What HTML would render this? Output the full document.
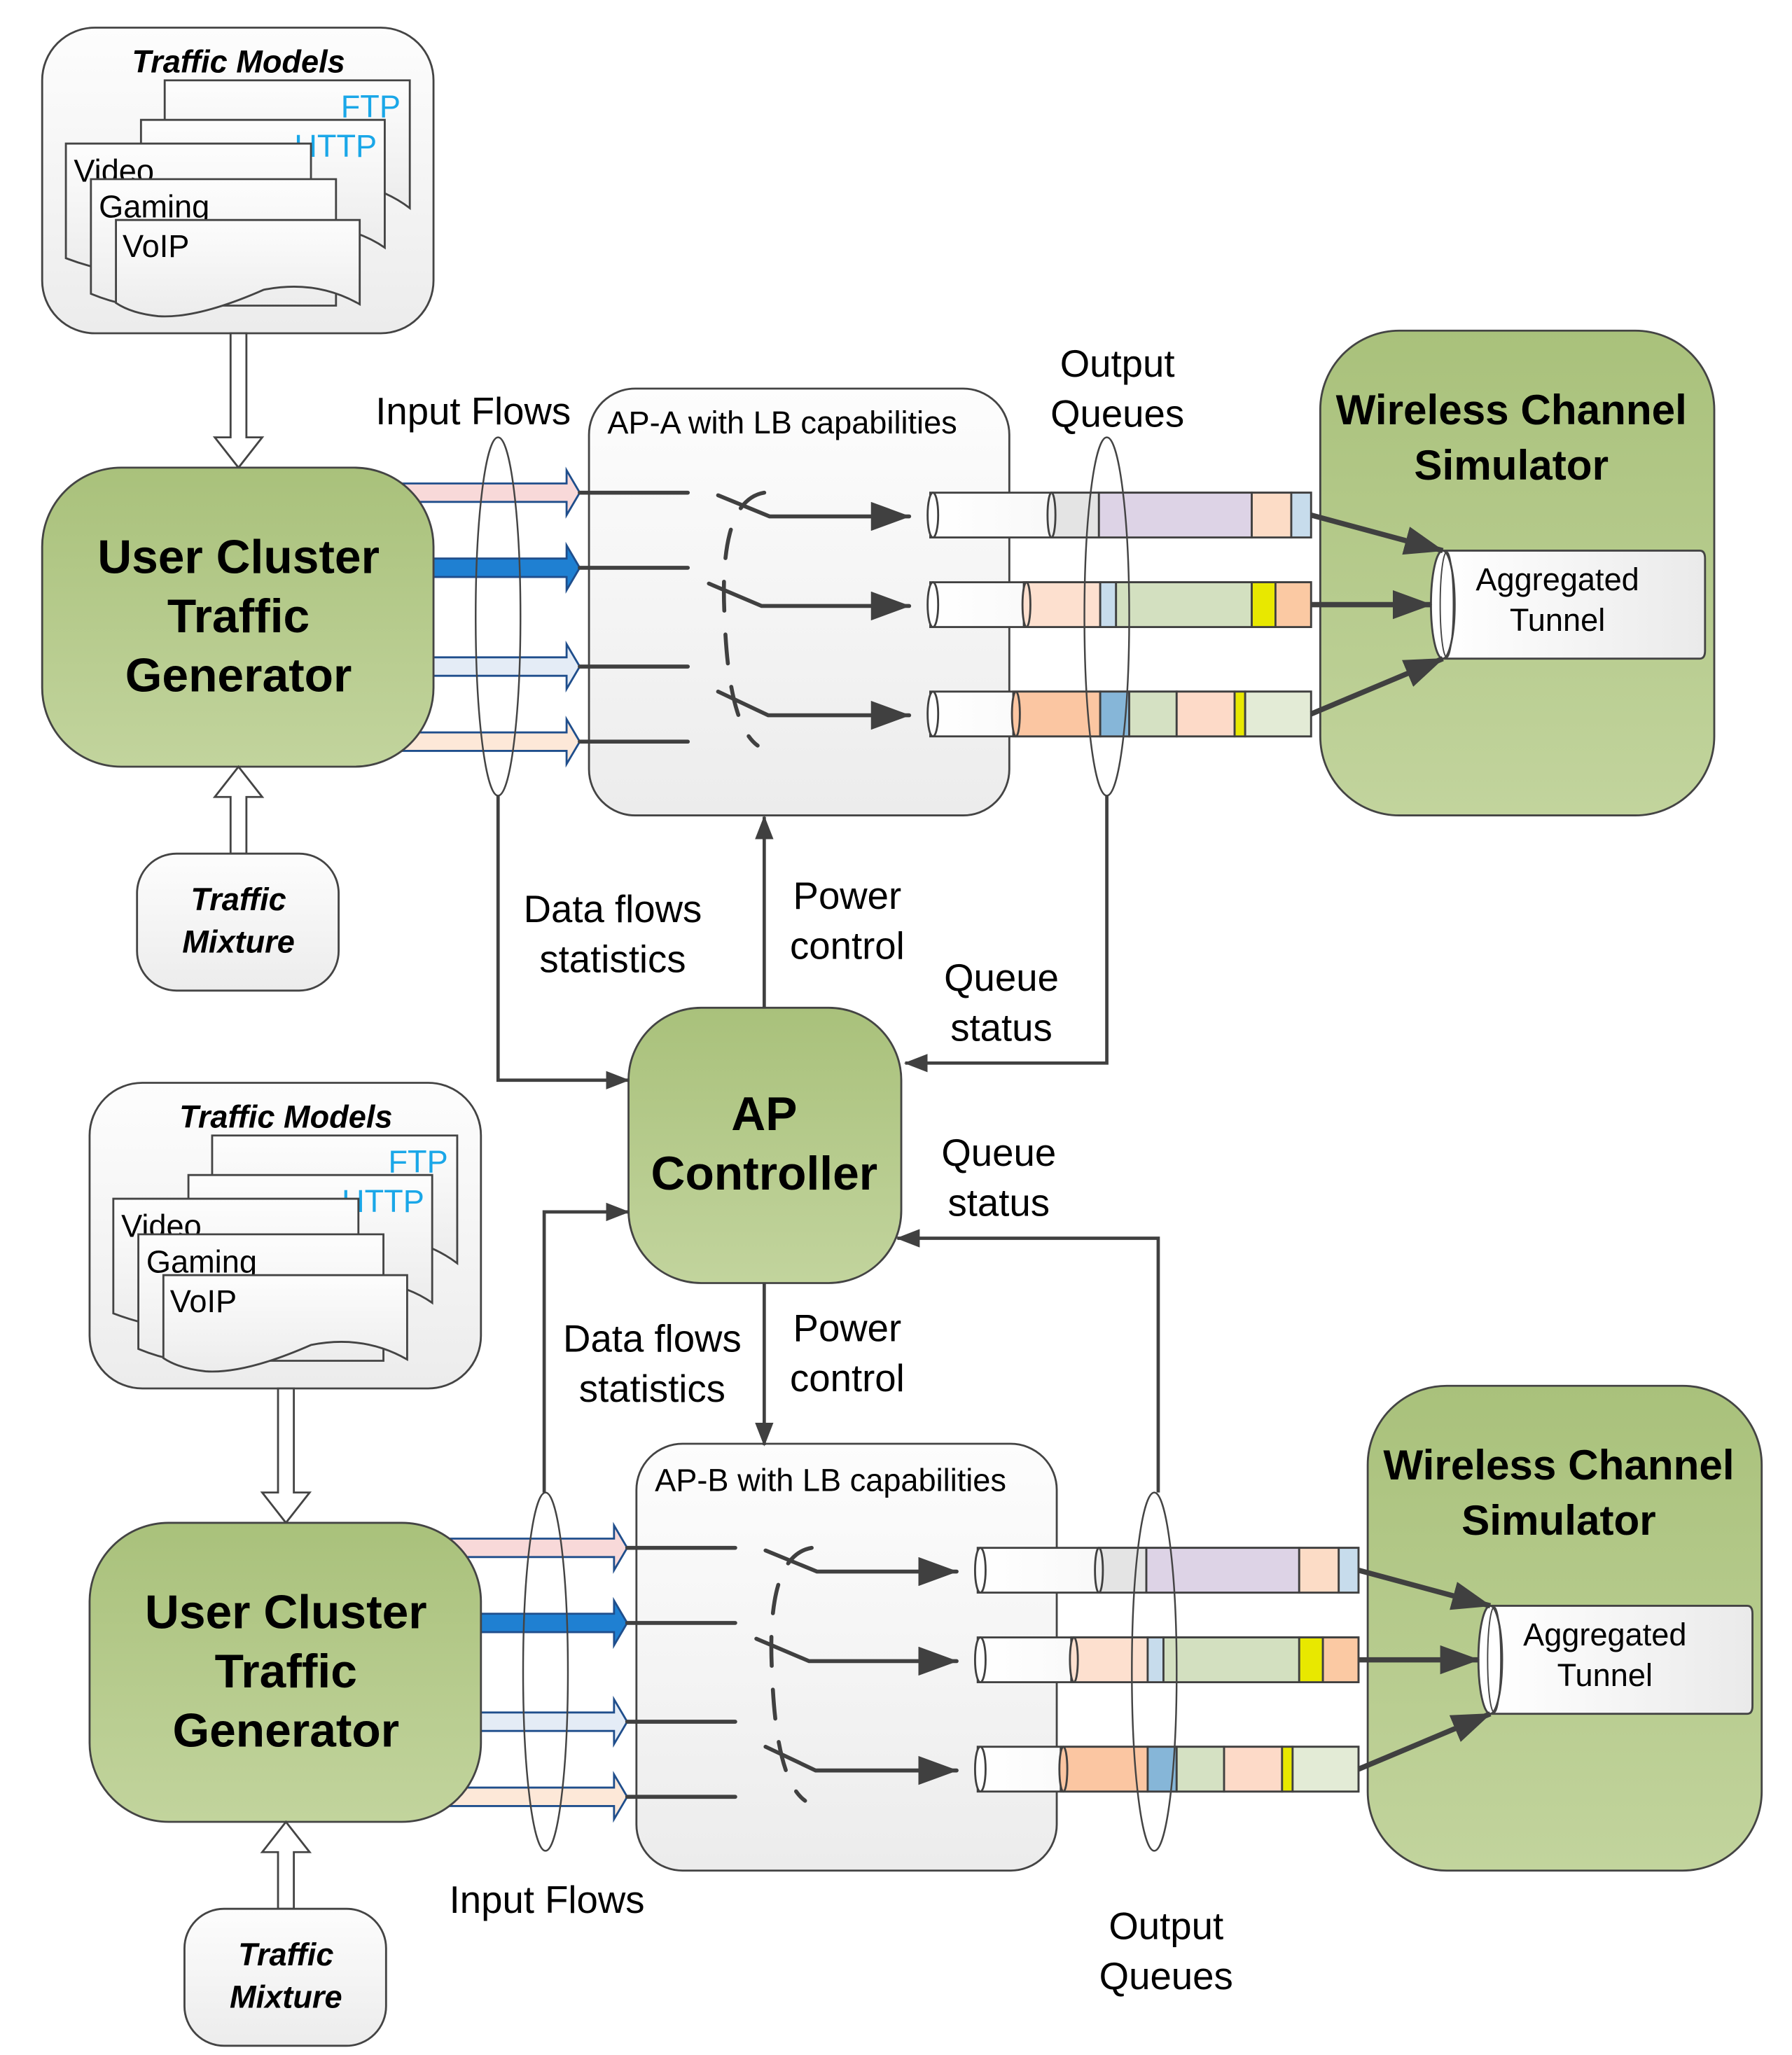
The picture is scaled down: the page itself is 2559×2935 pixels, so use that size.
<!DOCTYPE html>
<html><head><meta charset="utf-8"><style>
html,body{margin:0;padding:0;background:#fff}
svg{display:block}
text{font-family:"Liberation Sans",Arial,sans-serif;fill:#000}
</style></head><body>
<svg width="2559" height="2935" viewBox="0 0 1360 1560" preserveAspectRatio="none" xmlns="http://www.w3.org/2000/svg">
<defs>
<linearGradient id="gw" x1="0" y1="0" x2="0" y2="1"><stop offset="0" stop-color="#fdfdfd"/><stop offset="1" stop-color="#ececec"/></linearGradient>
<linearGradient id="gg" x1="0" y1="0" x2="0" y2="1"><stop offset="0" stop-color="#a9c17b"/><stop offset="1" stop-color="#c2d49d"/></linearGradient>
<linearGradient id="gt" x1="0" y1="0" x2="1" y2="0"><stop offset="0" stop-color="#ffffff"/><stop offset="1" stop-color="#eaeaea"/></linearGradient>
<marker id="ahb" markerWidth="30" markerHeight="22" refX="29" refY="11" orient="auto" markerUnits="userSpaceOnUse" viewBox="0 0 30 22"><path d="M0,0 L30,11 L0,22 z" fill="#404040"/></marker>
<marker id="ahs" markerWidth="18" markerHeight="14" refX="17" refY="7" orient="auto" markerUnits="userSpaceOnUse" viewBox="0 0 18 14"><path d="M0,0 L18,7 L0,14 z" fill="#404040"/></marker>

<g id="blk">
  <rect x="32" y="21" width="297" height="232" rx="40" fill="url(#gw)" stroke="#444" stroke-width="1.5"/>
  <text x="181" y="55" font-size="24" font-weight="bold" font-style="italic" text-anchor="middle">Traffic Models</text>
  <path d="M125,61 H311 V158 Q290,142 260,138 H125 Z" fill="url(#gw)" stroke="#444" stroke-width="1.5"/>
  <text x="304" y="89" font-size="24" text-anchor="end" style="fill:#1aa7e8">FTP</text>
  <path d="M107,91 H292 V188 Q275,176 250,172 H107 Z" fill="url(#gw)" stroke="#444" stroke-width="1.5"/>
  <text x="286" y="119" font-size="24" text-anchor="end" style="fill:#1aa7e8">HTTP</text>
  <path d="M50,109 H236 V205 H150 Q100,215 50,196 Z" fill="url(#gw)" stroke="#444" stroke-width="1.5"/>
  <text x="56" y="138" font-size="24">Video</text>
  <path d="M69,136 H255 V232 H160 Q110,240 69,223 Z" fill="url(#gw)" stroke="#444" stroke-width="1.5"/>
  <text x="75" y="165" font-size="24">Gaming</text>
  <path d="M88,167 H273 V231 Q240,212 200,220 Q150,242 120,240 Q100,238 88,230 Z" fill="url(#gw)" stroke="#444" stroke-width="1.5"/>
  <text x="93" y="195" font-size="24">VoIP</text>
  <polygon points="175,253 187,253 187,332 199,332 181,355 163,332 175,332" fill="#fff" stroke="#444" stroke-width="1.5"/>
  <polygon points="300,367 430,367 430,357 440,374 430,391 430,381 300,381" fill="#f8d9d9" stroke="#1f4e8c" stroke-width="1.5"/>
  <polygon points="300,424 430,424 430,414 440,431 430,448 430,438 300,438" fill="#1f80d2" stroke="#1f4e8c" stroke-width="1.5"/>
  <polygon points="300,499 430,499 430,489 440,506 430,523 430,513 300,513" fill="#e4ecf6" stroke="#1f4e8c" stroke-width="1.5"/>
  <polygon points="300,556 430,556 430,546 440,563 430,580 430,570 300,570" fill="#fde8d8" stroke="#1f4e8c" stroke-width="1.5"/>
  <rect x="32" y="355" width="297" height="227" rx="60" fill="url(#gg)" stroke="#444" stroke-width="1.5"/>
  <text x="181" y="435" font-size="36" font-weight="bold" text-anchor="middle">User Cluster</text>
  <text x="181" y="480" font-size="36" font-weight="bold" text-anchor="middle">Traffic</text>
  <text x="181" y="525" font-size="36" font-weight="bold" text-anchor="middle">Generator</text>
  <polygon points="175,648 187,648 187,605 199,605 181,582 163,605 175,605" fill="#fff" stroke="#444" stroke-width="1.5"/>
  <rect x="104" y="648" width="153" height="104" rx="30" fill="url(#gw)" stroke="#444" stroke-width="1.5"/>
  <text x="181" y="691" font-size="24" font-weight="bold" font-style="italic" text-anchor="middle">Traffic</text>
  <text x="181" y="723" font-size="24" font-weight="bold" font-style="italic" text-anchor="middle">Mixture</text>
  <rect x="447" y="295" width="319" height="324" rx="35" fill="url(#gw)" stroke="#444" stroke-width="1.5"/>
  <g stroke="#404040" stroke-width="3" fill="none" stroke-linecap="round">
    <line x1="440" y1="374" x2="522" y2="374"/>
    <line x1="440" y1="431" x2="522" y2="431"/>
    <line x1="440" y1="506" x2="522" y2="506"/>
    <line x1="440" y1="563" x2="522" y2="563"/>
    <polyline points="545,376 584,392 690,392" marker-end="url(#ahb)"/>
    <polyline points="538,443 578,460 690,460" marker-end="url(#ahb)"/>
    <polyline points="545,525 583,543 690,543" marker-end="url(#ahb)"/>
    <path d="M580,374 Q545,380 550,470 Q553,550 575,566" stroke-dasharray="22,18"/>
  </g>
  <g stroke="#404040" stroke-width="1.5">
    <rect x="706" y="374" width="289" height="34" fill="url(#gt)"/>
    <rect x="798" y="374" width="36" height="34" fill="#e4e4e4"/>
    <rect x="834" y="374" width="116" height="34" fill="#ddd3e6"/>
    <rect x="950" y="374" width="30" height="34" fill="#fcdcc6"/>
    <rect x="980" y="374" width="15" height="34" fill="#c7dcec"/>
    <ellipse cx="798" cy="391" rx="3" ry="17" fill="#eee"/>
    <ellipse cx="708" cy="391" rx="4" ry="17" fill="#fff"/>
    <rect x="706" y="442" width="289" height="34" fill="url(#gt)"/>
    <rect x="777" y="442" width="58" height="34" fill="#fde0cf"/>
    <rect x="835" y="442" width="12" height="34" fill="#c7dcec"/>
    <rect x="847" y="442" width="103" height="34" fill="#d3e0c0"/>
    <rect x="950" y="442" width="18" height="34" fill="#e8e800"/>
    <rect x="968" y="442" width="27" height="34" fill="#fbc9a3"/>
    <ellipse cx="779" cy="459" rx="3" ry="17" fill="#fde0cf"/>
    <ellipse cx="708" cy="459" rx="4" ry="17" fill="#fff"/>
    <rect x="706" y="525" width="289" height="34" fill="url(#gt)"/>
    <rect x="769" y="525" width="66" height="34" fill="#fbc6a2"/>
    <rect x="835" y="525" width="22" height="34" fill="#86b6d8"/>
    <rect x="857" y="525" width="36" height="34" fill="#d5e1c3"/>
    <rect x="893" y="525" width="44" height="34" fill="#fddac8"/>
    <rect x="937" y="525" width="8" height="34" fill="#e8e800"/>
    <rect x="945" y="525" width="50" height="34" fill="#e3ebd6"/>
    <ellipse cx="771" cy="542" rx="3" ry="17" fill="#fbc6a2"/>
    <ellipse cx="708" cy="542" rx="4" ry="17" fill="#fff"/>
  </g>
  <ellipse cx="378" cy="468" rx="17" ry="136" fill="none" stroke="#444" stroke-width="1.3"/>
  <ellipse cx="840" cy="468" rx="17" ry="136" fill="none" stroke="#444" stroke-width="1.3"/>
  <rect x="1002" y="251" width="299" height="368" rx="60" fill="url(#gg)" stroke="#444" stroke-width="1.5"/>
  <text x="1147" y="322" font-size="32" font-weight="bold" text-anchor="middle">Wireless Channel</text>
  <text x="1147" y="364" font-size="32" font-weight="bold" text-anchor="middle">Simulator</text>
  <path d="M1095,418 H1290 Q1294,418 1294,424 V494 Q1294,500 1290,500 H1095" fill="url(#gt)" stroke="#444" stroke-width="1.5"/>
  <ellipse cx="1095" cy="459" rx="9" ry="41" fill="#fff" stroke="#444" stroke-width="1.5"/>
  <ellipse cx="1098" cy="459" rx="5" ry="40" fill="none" stroke="#444" stroke-width="1"/>
  <text x="1182" y="448" font-size="24" text-anchor="middle">Aggregated</text>
  <text x="1182" y="479" font-size="24" text-anchor="middle">Tunnel</text>
  <g stroke="#404040" stroke-width="4" fill="none">
    <line x1="995" y1="391" x2="1095" y2="418" marker-end="url(#ahb)"/>
    <line x1="995" y1="459" x2="1086" y2="459" marker-end="url(#ahb)"/>
    <line x1="995" y1="542" x2="1095" y2="500" marker-end="url(#ahb)"/>
  </g>
</g>
</defs>

<use href="#blk"/>
<use href="#blk" transform="translate(36,801)"/>

<text x="461" y="329" font-size="24">AP-A with LB capabilities</text>
<text x="497" y="1132" font-size="24">AP-B with LB capabilities</text>
<text x="285" y="322" font-size="29">Input Flows</text>
<text x="848" y="286" font-size="29" text-anchor="middle">Output</text>
<text x="848" y="324" font-size="29" text-anchor="middle">Queues</text>
<text x="341" y="1452" font-size="29">Input Flows</text>
<text x="885" y="1472" font-size="29" text-anchor="middle">Output</text>
<text x="885" y="1510" font-size="29" text-anchor="middle">Queues</text>

<rect x="477" y="765" width="207" height="209" rx="55" fill="url(#gg)" stroke="#444" stroke-width="1.5"/>
<text x="580" y="858" font-size="36" font-weight="bold" text-anchor="middle">AP</text>
<text x="580" y="903" font-size="36" font-weight="bold" text-anchor="middle">Controller</text>

<g stroke="#404040" stroke-width="2.5" fill="none">
  <polyline points="378,604 378,820 477,820" marker-end="url(#ahs)"/>
  <line x1="580" y1="765" x2="580" y2="620" marker-end="url(#ahs)"/>
  <polyline points="840,604 840,807 687,807" marker-end="url(#ahs)"/>
  <polyline points="413,1133 413,920 477,920" marker-end="url(#ahs)"/>
  <line x1="580" y1="974" x2="580" y2="1097" marker-end="url(#ahs)"/>
  <polyline points="879,1133 879,940 681,940" marker-end="url(#ahs)"/>
</g>
<text x="465" y="700" font-size="29" text-anchor="middle">Data flows</text>
<text x="465" y="738" font-size="29" text-anchor="middle">statistics</text>
<text x="643" y="690" font-size="29" text-anchor="middle">Power</text>
<text x="643" y="728" font-size="29" text-anchor="middle">control</text>
<text x="760" y="752" font-size="29" text-anchor="middle">Queue</text>
<text x="760" y="790" font-size="29" text-anchor="middle">status</text>
<text x="758" y="885" font-size="29" text-anchor="middle">Queue</text>
<text x="758" y="923" font-size="29" text-anchor="middle">status</text>
<text x="495" y="1026" font-size="29" text-anchor="middle">Data flows</text>
<text x="495" y="1064" font-size="29" text-anchor="middle">statistics</text>
<text x="643" y="1018" font-size="29" text-anchor="middle">Power</text>
<text x="643" y="1056" font-size="29" text-anchor="middle">control</text>
</svg>
</body></html>
